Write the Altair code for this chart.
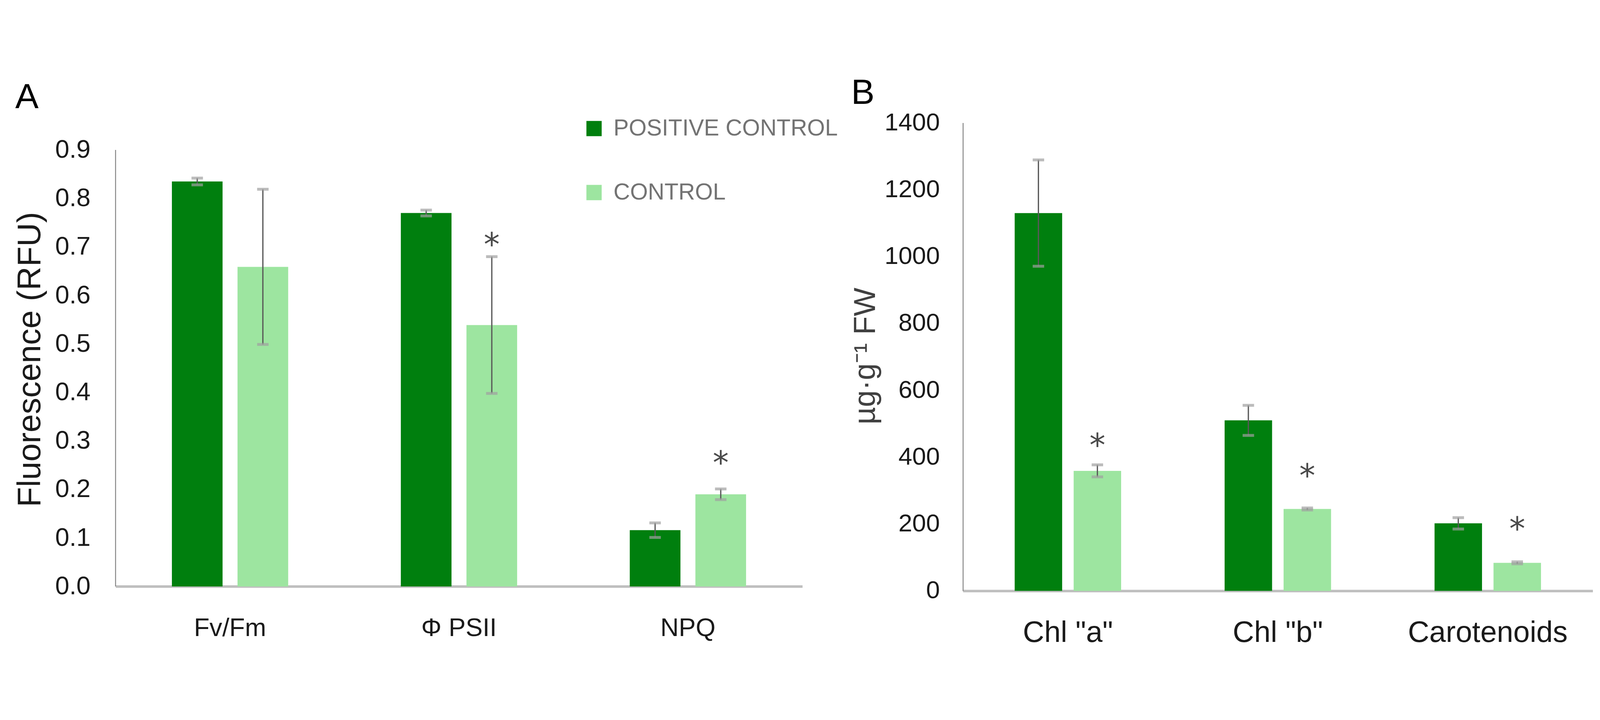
import altair as alt
import pandas as pd

# ---------------- data ----------------
series = ["POSITIVE CONTROL", "CONTROL"]
colors = ["#007F0E", "#9DE5A0"]

a_cats = ["Fv/Fm", "Φ PSII", "NPQ"]
a_pos = [0.835, 0.770, 0.116]
a_pos_err = [0.007, 0.006, 0.015]
a_ctl = [0.659, 0.539, 0.190]
a_ctl_err = [0.160, 0.141, 0.011]
a_star_cats = ["Φ PSII", "NPQ"]
a_star_y = [0.718, 0.268]
a_ticks = [0.0, 0.1, 0.2, 0.3, 0.4, 0.5, 0.6, 0.7, 0.8, 0.9]

b_cats = ['Chl "a"', 'Chl "b"', "Carotenoids"]
b_pos = [1130, 510, 202]
b_pos_err = [159, 45, 17]
b_ctl = [359, 245, 84]
b_ctl_err = [18, 3, 3]
b_star_cats = ['Chl "a"', 'Chl "b"', "Carotenoids"]
b_star_y = [454, 363, 205]
b_ticks = [0, 200, 400, 600, 800, 1000, 1200, 1400]


def bar_frame(cats, pos, pos_err, ctl, ctl_err):
    rows = []
    for c, v, e in zip(cats, pos, pos_err):
        rows.append({"cat": c, "series": series[0], "value": v, "lo": v - e, "hi": v + e})
    for c, v, e in zip(cats, ctl, ctl_err):
        rows.append({"cat": c, "series": series[1], "value": v, "lo": v - e, "hi": v + e})
    return pd.DataFrame(rows)


def star_frame(cats, ys):
    return pd.DataFrame({"cat": cats, "series": [series[1]] * len(cats), "y": ys})


def panel(df, stars, cats, ticks, ymax, width, height, x_inner, off_inner,
          x_axis_kw, y_axis_kw, y_title, legend, letter, letter_pos, axis_rule=None):
    xs = alt.Scale(domain=cats, paddingInner=x_inner, paddingOuter=x_inner / 2)
    x = alt.X("cat:N", sort=cats, scale=xs, axis=alt.Axis(**x_axis_kw), title=None)
    xo = alt.XOffset("series:N", sort=series,
                     scale=alt.Scale(domain=series, paddingInner=off_inner, paddingOuter=0))
    ys = alt.Scale(domain=[0, ymax], nice=False, zero=True)
    yax = alt.Axis(**y_axis_kw)

    def Y(field):
        return alt.Y(field, scale=ys, axis=yax, title=y_title)

    base = alt.Chart(df)
    bars = base.mark_bar().encode(
        x=x, xOffset=xo, y=Y("value:Q"),
        color=alt.Color("series:N", sort=series,
                        scale=alt.Scale(domain=series, range=colors), legend=legend),
    )
    rules = base.mark_rule(color="#595959", strokeWidth=4).encode(
        x=x, xOffset=xo, y=Y("lo:Q"), y2="hi:Q")
    caps = base.transform_fold(["lo", "hi"], as_=["end", "endv"]).mark_tick(
        color="#a0a0a0", thickness=9, size=36).encode(x=x, xOffset=xo, y=Y("endv:Q"))
    star = alt.Chart(stars).mark_text(
        text="*", font="DejaVu Sans", fontSize=100, color="#4a4a4a",
        baseline="alphabetic", dy=55).encode(x=x, xOffset=xo, y=Y("y:Q"))
    lab = alt.Chart(pd.DataFrame({"t": [letter]})).mark_text(
        font="Liberation Sans", fontSize=110, color="black", align="left",
        baseline="alphabetic").encode(
        text="t:N", x=alt.value(letter_pos[0]), y=alt.value(letter_pos[1]))
    layers = [bars, rules, caps, star, lab]
    if axis_rule is not None:
        ar = alt.Chart(pd.DataFrame({"lo": [axis_rule[0]], "hi": [axis_rule[1]]})).mark_rule(
            color="#858585", strokeWidth=3).encode(x=alt.value(0), y=Y("lo:Q"), y2="hi:Q")
        layers.insert(0, ar)
    return alt.layer(*layers).properties(width=width, height=height)


dfa = bar_frame(a_cats, a_pos, a_pos_err, a_ctl, a_ctl_err)
dfb = bar_frame(b_cats, b_pos, b_pos_err, b_ctl, b_ctl_err)

legend_a = alt.Legend(
    orient="none", legendX=1466, legendY=-18, title=None, symbolType="square",
    symbolSize=2300, symbolStrokeWidth=0, symbolOpacity=1, labelFontSize=72,
    labelFont="Liberation Sans", labelColor="#737373", labelOffset=25,
    rowPadding=129, padding=0, labelLimit=2000,
)

panel_a = panel(
    dfa, star_frame(a_star_cats, a_star_y), a_cats, a_ticks, 0.956, 2156, 1456,
    0.492, 0.228,
    dict(labelAngle=0, ticks=False, domainColor="#bfbfbf", domainWidth=8,
         labelFontSize=80, labelPadding=92, labelColor="#1a1a1a", labelLimit=2000),
    dict(values=a_ticks, format=".1f", domain=False, ticks=False, grid=False,
         labelFontSize=80, labelPadding=79, labelColor="#1a1a1a",
         titleFontSize=103, titleFontWeight="normal", titleColor="#1a1a1a",
         titleX=-237, titleY=743, titleAngle=270, titleBaseline="alphabetic",
         titleAlign="center"),
    "Fluorescence (RFU)", legend_a, "A", (-315, -46),
    axis_rule=(0, 0.9),
)

panel_b = panel(
    dfb, star_frame(b_star_cats, b_star_y), b_cats, b_ticks, 1400, 1977, 1470,
    0.493, 0.195,
    dict(labelAngle=0, ticks=False, domainColor="#bfbfbf", domainWidth=8,
         labelFontSize=93, labelPadding=87, labelColor="#1a1a1a", labelLimit=2000),
    dict(values=b_ticks, format="d", domain=True, domainColor="#858585", domainWidth=3,
         ticks=False, grid=False, labelFontSize=78, labelPadding=73, labelColor="#1a1a1a",
         titleFontSize=95, titleFontWeight="normal", titleColor="#404040",
         titleX=-276, titleY=732, titleAngle=270, titleBaseline="alphabetic",
         titleAlign="center"),
    "µg·g⁻¹ FW", None, "B", (-351, -60),
)

chart = (
    alt.hconcat(panel_a, panel_b, spacing=504, bounds="flush")
    .resolve_scale(x="independent", y="independent", color="independent", xOffset="independent")
    .resolve_legend(color="independent")
    .properties(
        autosize=alt.AutoSizeParams(type="none"),
        padding={"left": 353, "top": 170, "right": 4650, "bottom": 1650},
    )
    .configure(font="Liberation Sans")
    .configure_view(strokeWidth=0)
    .configure_axis(labelFont="Liberation Sans", titleFont="Liberation Sans")
)

chart.save("out.html", embed_options={"renderer": "svg", "actions": False})
